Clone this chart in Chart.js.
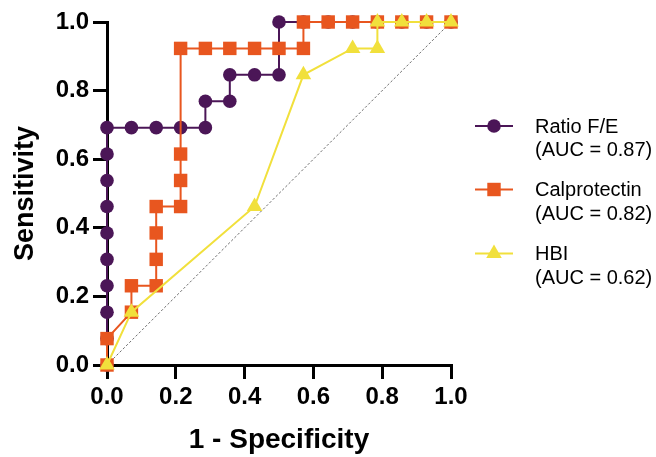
<!DOCTYPE html>
<html>
<head>
<meta charset="utf-8">
<script src="https://cdn.jsdelivr.net/npm/chart.js@4/dist/chart.umd.min.js"></script>
<style>
html,body{margin:0;padding:0;background:#fff;}
#wrap{width:656px;height:457px;}
</style>
</head>
<body>
<div id="wrap"><canvas id="c" width="656" height="457"></canvas></div>
<script>
// 1 - Specificity (x) and Sensitivity (y) for each ROC curve
const ratioX = [0,0,0,0,0,0,0,0,0,0, 0.071,0.143,0.214,0.286, 0.286,0.357, 0.357,0.429,0.5, 0.5,0.571,0.643,0.714,0.786,0.857,0.929,1];
const ratioY = [0,0.077,0.154,0.231,0.308,0.385,0.462,0.538,0.615,0.692, 0.692,0.692,0.692,0.692, 0.769,0.769, 0.846,0.846,0.846, 1,1,1,1,1,1,1,1];

const calproX = [0,0,0.071,0.071,0.143,0.143,0.143,0.143,0.214,0.214,0.214,0.214,0.286,0.357,0.429,0.5,0.571,0.571,0.643,0.714,0.786,0.857,0.929,1];
const calproY = [0,0.077,0.154,0.231,0.231,0.308,0.385,0.462,0.462,0.538,0.615,0.923,0.923,0.923,0.923,0.923,0.923,1,1,1,1,1,1,1];

const hbiX = [0,0.071,0.429,0.571,0.714,0.786,0.786,0.857,0.929,1];
const hbiY = [0,0.154,0.462,0.846,0.923,0.923,1,1,1,1];

const refX = [0,1];
const refY = [0,1];

const seriesNames = ['Ratio F/E','Calprotectin','HBI'];
const aucLabels = ['(AUC = 0.87)','(AUC = 0.82)','(AUC = 0.62)'];

const tickValues = [0,0.2,0.4,0.6,0.8,1.0];
const tickLabels = ['0.0','0.2','0.4','0.6','0.8','1.0'];

const xTitle = '1 - Specificity';
const yTitle = 'Sensitivity';

const colors = ['#4B1657','#E8561F','#F1E03C'];
const styles = ['circle','rect','triangle'];
const radii = [6.8, 9.5, 9];

function pts(xs, ys){ return xs.map((x,i)=>({x:x, y:ys[i]})); }

const FONT = "'Liberation Sans', Arial, Helvetica, sans-serif";

function mkSet(i, xs, ys, order){
  return {
    label: seriesNames[i],
    data: pts(xs, ys),
    showLine: true,
    borderColor: colors[i],
    backgroundColor: colors[i],
    borderWidth: 2,
    pointStyle: styles[i],
    pointRadius: radii[i],
    pointHoverRadius: radii[i],
    pointBorderWidth: 0,
    pointBackgroundColor: colors[i],
    tension: 0,
    clip: false,
    order: order
  };
}

const legendPlugin = {
  id: 'customLegend',
  afterDraw(chart){
    const ctx = chart.ctx;
    const firstY = [126, 189.5, 253.5];
    ctx.save();
    for (let i=0;i<3;i++){
      const y = firstY[i];
      ctx.strokeStyle = colors[i];
      ctx.lineWidth = 2;
      ctx.beginPath();
      ctx.moveTo(475, y);
      ctx.lineTo(513, y);
      ctx.stroke();
      const opts = {pointStyle: styles[i], radius: radii[i], rotation: 0, borderWidth: 0};
      ctx.fillStyle = colors[i];
      if (Chart.helpers && Chart.helpers.drawPoint) {
        Chart.helpers.drawPoint(ctx, opts, 494, y);
      }
      ctx.fillStyle = '#000';
      ctx.font = '20px ' + FONT;
      ctx.textAlign = 'left';
      ctx.textBaseline = 'middle';
      ctx.fillText(seriesNames[i], 535, y + 1);
      ctx.fillText(aucLabels[i], 535, y + 24.5);
    }
    ctx.restore();
  }
};

const tickFont = {family: FONT, size: 24, weight: 'bold', lineHeight: 1.2};

new Chart(document.getElementById('c'), {
  type: 'scatter',
  data: {
    datasets: [
      mkSet(2, hbiX, hbiY, 1),
      mkSet(1, calproX, calproY, 2),
      mkSet(0, ratioX, ratioY, 3),
      {
        label: 'ref',
        data: pts(refX, refY),
        showLine: true,
        borderColor: '#6f6f6f',
        borderWidth: 1,
        borderDash: [2.5, 2],
        pointRadius: 0,
        order: 4
      }
    ]
  },
  options: {
    responsive: false,
    animation: false,
    events: [],
    layout: {padding: {left: 0, top: 22, right: 205, bottom: 0}},
    plugins: {legend: {display: false}, tooltip: {enabled: false}},
    scales: {
      x: {
        type: 'linear',
        min: 0, max: 1,
        afterBuildTicks: (s) => { s.ticks = tickValues.map(v => ({value: v})); },
        afterFit: (s) => { s.height = 92; },
        ticks: {
          callback: (v, i) => tickLabels[i],
          color: '#000',
          font: tickFont,
          padding: 4,
          maxRotation: 0,
          autoSkip: false
        },
        grid: {drawOnChartArea: false, drawTicks: true, tickLength: 14, color: '#000', lineWidth: 3},
        border: {display: true, color: '#000', width: 3},
        title: {display: true, text: xTitle, color: '#000', font: {family: FONT, size: 28, weight: 'bold', lineHeight: 1.2}, padding: {top: 0, bottom: 0}}
      },
      y: {
        type: 'linear',
        min: 0, max: 1,
        afterBuildTicks: (s) => { s.ticks = tickValues.map(v => ({value: v})); },
        afterFit: (s) => { s.width = 107; },
        ticks: {
          callback: (v, i) => tickLabels[i],
          color: '#000',
          font: tickFont,
          padding: 4,
          autoSkip: false
        },
        grid: {drawOnChartArea: false, drawTicks: true, tickLength: 14, color: '#000', lineWidth: 3},
        border: {display: true, color: '#000', width: 3},
        title: {display: true, text: yTitle, color: '#000', font: {family: FONT, size: 27, weight: 'bold', lineHeight: 1.2}, padding: {top: 9, bottom: 0}}
      }
    }
  },
  plugins: [legendPlugin]
});
</script>
</body>
</html>
